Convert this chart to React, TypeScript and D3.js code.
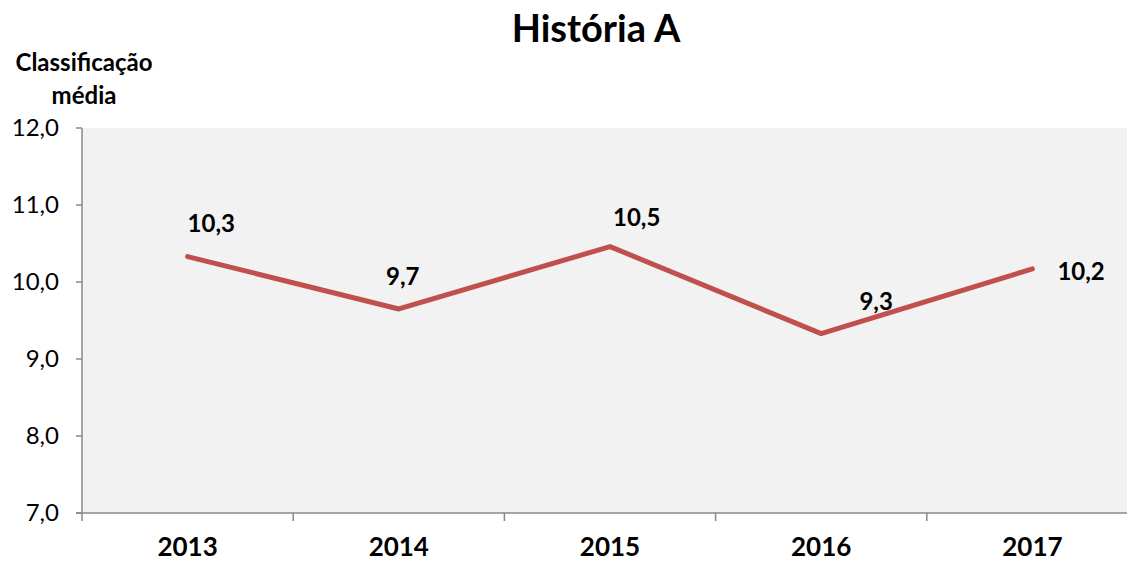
import * as d3 from "d3";

const years = ["2013", "2014", "2015", "2016", "2017"];
const values = [10.33, 9.65, 10.46, 9.33, 10.17];
const labels = ["10,3", "9,7", "10,5", "9,3", "10,2"];
const yTicks = [7, 8, 9, 10, 11, 12];

// label placement relative to each point: [dx, dy, anchor]
const labelOffsets: [number, number, string][] = [
  [0, -33, "start"],
  [4, -32, "middle"],
  [3, -29, "start"],
  [55, -32, "middle"],
  [25, 3, "start"],
];

const W = 1127;
const H = 562;
const margin = { top: 128, right: -11, bottom: 49, left: 82 };
const font = "Lato, 'Open Sans', sans-serif";

export default function App() {
  const innerW = W - margin.left - margin.right;
  const innerH = H - margin.top - margin.bottom;

  const x = d3.scaleBand().domain(years).range([0, innerW]);
  const y = d3.scaleLinear().domain([7, 12]).range([innerH, 0]);

  const line = d3
    .line<number>()
    .x((_, i) => (x(years[i]) as number) + x.bandwidth() / 2)
    .y((d) => y(d));

  const boundaries = years.map((yr) => x(yr) as number).concat([innerW]);

  return (
    <svg
      width={W}
      height={H}
      style={{ position: "absolute", left: 0, top: 0, background: "#fff" }}
    >
      <text
        x={596}
        y={42}
        textAnchor="middle"
        fontFamily={font}
        fontWeight="bold"
        fontSize={38}
      >
        História A
      </text>
      <text x={84} y={71} textAnchor="middle" fontFamily={font} fontWeight="bold" fontSize={24}>
        Classificação
      </text>
      <text x={84} y={104} textAnchor="middle" fontFamily={font} fontWeight="bold" fontSize={24}>
        média
      </text>
      <g transform={`translate(${margin.left},${margin.top})`}>
        <rect x={0} y={0} width={innerW} height={innerH} fill="#f2f2f2" />
        <line x1={0} x2={0} y1={0} y2={innerH} stroke="#888" strokeWidth={1.5} />
        <line x1={-6} x2={innerW} y1={innerH} y2={innerH} stroke="#888" strokeWidth={1.5} />
        {yTicks.map((t) => (
          <g key={t}>
            <line x1={-6} x2={0} y1={y(t)} y2={y(t)} stroke="#888" strokeWidth={1.5} />
            <text
              x={-23}
              y={y(t)}
              dy="0.35em"
              textAnchor="end"
              fontFamily={font}
              fontSize={24}
            >
              {t.toFixed(1).replace(".", ",")}
            </text>
          </g>
        ))}
        {boundaries.map((b, i) => (
          <line key={i} x1={b} x2={b} y1={innerH} y2={innerH + 8} stroke="#888" strokeWidth={1.5} />
        ))}
        {years.map((yr) => (
          <text
            key={yr}
            x={(x(yr) as number) + x.bandwidth() / 2}
            y={innerH + 43}
            textAnchor="middle"
            fontFamily={font}
            fontWeight="bold"
            fontSize={26}
          >
            {yr}
          </text>
        ))}
        <path
          d={line(values) ?? ""}
          fill="none"
          stroke="#c0504d"
          strokeWidth={5}
          strokeLinejoin="round"
          strokeLinecap="round"
        />
        {values.map((v, i) => {
          const [dx, dy, anchor] = labelOffsets[i];
          return (
            <text
              key={i}
              x={(x(years[i]) as number) + x.bandwidth() / 2 + dx}
              y={y(v) + dy}
              dy="0.35em"
              textAnchor={anchor}
              fontFamily={font}
              fontWeight="bold"
              fontSize={24}
            >
              {labels[i]}
            </text>
          );
        })}
      </g>
    </svg>
  );
}
